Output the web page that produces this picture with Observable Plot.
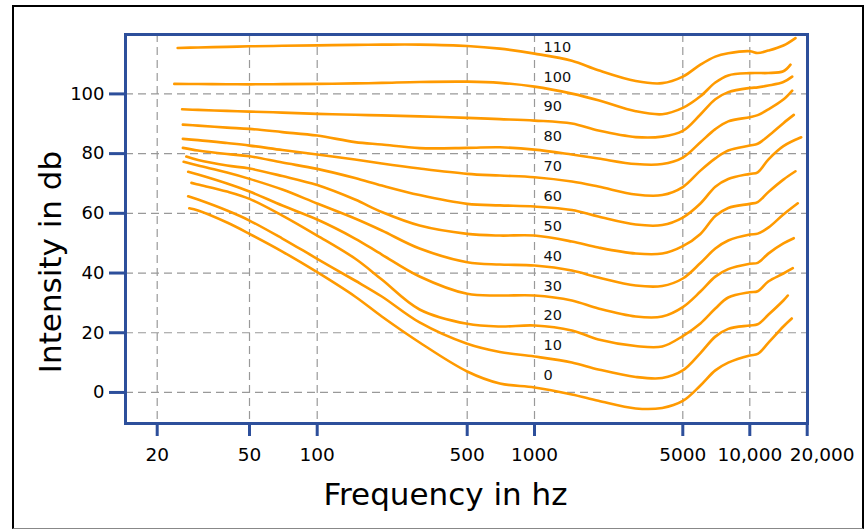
<!DOCTYPE html>
<html><head><meta charset="utf-8">
<script src="https://cdn.jsdelivr.net/npm/d3@7"></script>
<script src="https://cdn.jsdelivr.net/npm/@observablehq/plot@0.6"></script>
<style>
html,body{margin:0;padding:0;background:#fff;}
#wrap{position:relative;width:865px;height:529px;overflow:hidden;}
#border{position:absolute;left:12px;top:5px;width:848px;height:521px;border:2px solid #000;border-bottom:1px solid #888;pointer-events:none;}
</style></head><body>
<div id="wrap"><div id="chart"></div><div id="border"></div></div>
<script>
// ---- data ----
const levels = [110, 100, 90, 80, 70, 60, 50, 40, 30, 20, 10, 0];
const sampleHz = [30, 40, 50, 70, 100, 150, 200, 300, 500, 700, 1000, 1500, 2000, 3000, 4000, 5000, 6000, 7000, 8000, 10000, 11000, 12500, 15000];
const startHz = [24.5, 23.7, 25.6, 25.8, 25.8, 25.8, 26.7, 26.0, 27.2, 28.1, 27.2, 27.5];
const endHz = [17360, 16350, 16690, 16690, 17010, 18600, 17360, 17850, 17010, 16810, 15820, 16600];

const db110 = [115.4, 115.57, 115.77, 115.94, 116.11, 116.27, 116.44, 116.5, 116.5, 116.07, 115.17, 113.5, 111.1, 107.9, 104.3, 103.6, 105.8, 109.8, 112.5, 113.6, 114.3, 113.7, 114.5, 116.2, 118.7];
const db100 = [103.35, 103.31, 103.25, 103.21, 103.28, 103.35, 103.52, 103.68, 104.0, 104.1, 103.7, 102.44, 100.1, 97.9, 94.2, 93.2, 95.3, 99.2, 103.8, 106.2, 106.96, 107.0, 107.0, 107.6, 109.8];
const db90 = [94.84, 94.64, 94.31, 94.07, 93.74, 93.30, 93.00, 92.80, 92.47, 91.97, 91.56, 91.06, 90.06, 87.71, 85.54, 85.70, 87.6, 93.1, 98.2, 100.6, 102.0, 102.2, 102.8, 104.0, 105.8];
const db80 = [89.72, 89.39, 88.72, 88.28, 87.21, 86.04, 83.86, 83.03, 81.85, 81.92, 82.12, 81.35, 79.68, 78.34, 76.50, 76.50, 78.67, 83.8, 88.2, 90.8, 92.2, 92.9, 94.8, 98.1, 101.1];
const db70 = [84.93, 84.53, 83.53, 82.69, 81.19, 79.68, 78.01, 76.67, 74.99, 73.22, 72.65, 72.08, 70.64, 68.97, 66.29, 66.12, 68.8, 74.3, 78.4, 81.05, 82.7, 83.3, 85.9, 90.2, 92.97];
const db60 = [81.92, 81.02, 79.85, 79.11, 77.0, 74.89, 71.81, 69.30, 66.12, 63.17, 62.67, 62.27, 61.10, 58.92, 56.24, 56.08, 58.59, 63.3, 68.9, 71.5, 73.22, 73.75, 78.0, 82.5, 85.47];
const db50 = [79.01, 77.84, 76.0, 74.99, 72.48, 69.47, 64.61, 60.43, 55.91, 53.13, 52.56, 52.56, 50.55, 48.54, 46.53, 46.53, 49.0, 53.1, 59.1, 61.8, 63.17, 63.78, 67.1, 71.3, 74.09];
const db40 = [77.24, 76.0, 73.65, 71.54, 67.96, 63.27, 58.25, 54.24, 48.21, 43.63, 42.85, 42.52, 40.84, 38.50, 35.82, 35.65, 38.17, 43.35, 48.2, 50.9, 52.9, 53.2, 55.2, 59.6, 63.37];
const db30 = [73.89, 72.98, 69.97, 67.29, 62.60, 57.92, 51.56, 46.20, 38.84, 33.04, 32.47, 32.47, 30.80, 28.12, 25.44, 25.44, 28.6, 33.8, 38.8, 41.3, 43.09, 43.42, 46.5, 49.9, 51.66];
const db20 = [70.20, 69.64, 67.29, 64.85, 59.26, 52.56, 44.86, 37.83, 27.79, 23.0, 22.10, 22.43, 20.76, 17.74, 15.57, 15.40, 18.9, 23.1, 28.1, 31.8, 33.58, 33.91, 37.16, 39.84, 41.61];
const db10 = [65.72, 64.61, 60.93, 57.58, 51.56, 44.76, 37.50, 32.14, 23.44, 16.30, 13.56, 12.05, 10.04, 7.70, 5.19, 4.85, 7.37, 13.2, 18.7, 21.3, 22.43, 22.83, 26.0, 30.8, 32.47];
const db0 = [61.70, 60.93, 56.91, 53.13, 47.20, 40.27, 32.14, 25.44, 16.74, 7.03, 3.01, 1.67, -0.7, -2.8, -5.36, -5.19, -2.85, 2.34, 7.4, 10.0, 12.4, 12.89, 16.6, 22.1, 24.77];

const labelHz = 1000;
const xTicks = [20, 50, 100, 500, 1000, 5000, 10000, 20000];
const xTickLabels = ["20", "50", "100", "500", "1000", "5000", "10,000", "20,000"];
const xGrid = [20, 50, 100, 500, 1000, 5000, 10000];
const yTicks = [0, 20, 40, 60, 80, 100];

// ---- build table ----
const dbSeries = [db110, db100, db90, db80, db70, db60, db50, db40, db30, db20, db10, db0];
const rows = [];
levels.forEach((lv, i) => {
  const hz = [startHz[i], ...sampleHz, endHz[i]];
  hz.forEach((h, j) => rows.push({hz: h, db: dbSeries[i][j], level: lv}));
});
const lastTick = xTicks[xTicks.length - 1];
const mainTicks = xTicks.slice(0, -1);
const label = d => xTickLabels[xTicks.indexOf(d)];

const blue = "#2D4F9B";
const orange = "#FF9A00";

const chart = Plot.plot({
  width: 865,
  height: 529,
  marginLeft: 125,
  marginRight: 58,
  marginTop: 34,
  marginBottom: 106,
  style: {fontFamily: "'DejaVu Sans', Verdana, sans-serif", background: "white", color: "black"},
  x: {type: "log", domain: [14.6, 20, 50, 100, 500, 1000, 5000, 10000, 20000],
      range: [125.3, 156.7, 249, 316.7, 466.7, 534, 682.3, 749.3, 806.7], label: null},
  y: {domain: [-10.4, 119.9], label: null},
  marks: [
    Plot.gridX(xGrid, {stroke: "#999", strokeOpacity: 1, strokeWidth: 1.2, strokeDasharray: "8,5"}),
    Plot.gridY(yTicks, {stroke: "#999", strokeOpacity: 1, strokeWidth: 1.2, strokeDasharray: "8,5"}),
    Plot.line(rows, {x: "hz", y: "db", z: "level", stroke: orange, strokeWidth: 2.6, curve: "catmull-rom"}),
    Plot.text(levels, {x: () => labelHz, y: d => d, text: d => String(d), textAnchor: "start", dx: 9, dy: -17, fontSize: 14.5, fill: "#111"}),
    Plot.frame({stroke: blue, strokeWidth: 3}),
    Plot.axisY(yTicks, {tickSize: 16, tickPadding: 5, stroke: blue, strokeWidth: 3, fill: "black", fontSize: 18, label: null}),
    Plot.axisX(xTicks, {tickSize: 13, stroke: blue, strokeWidth: 3, tickFormat: () => "", label: null}),
    Plot.text(mainTicks, {x: d => d, text: label, frameAnchor: "bottom", lineAnchor: "top", dy: 24, fontSize: 18.5, fill: "black"}),
    Plot.text([lastTick], {x: d => d, text: label, frameAnchor: "bottom", lineAnchor: "top", dy: 24, dx: 15, fontSize: 18.5, fill: "black"}),
    Plot.text(["Frequency in hz"], {frameAnchor: "bottom", textAnchor: "middle", lineAnchor: "middle", dx: -21, dy: 72, fontSize: 31, fill: "black"}),
    Plot.text(["Intensity in db"], {frameAnchor: "left", textAnchor: "middle", lineAnchor: "middle", rotate: -90, dx: -74, dy: 33, fontSize: 31, fill: "black"})
  ]
});
document.getElementById("chart").appendChild(chart);
</script>
</body></html>
